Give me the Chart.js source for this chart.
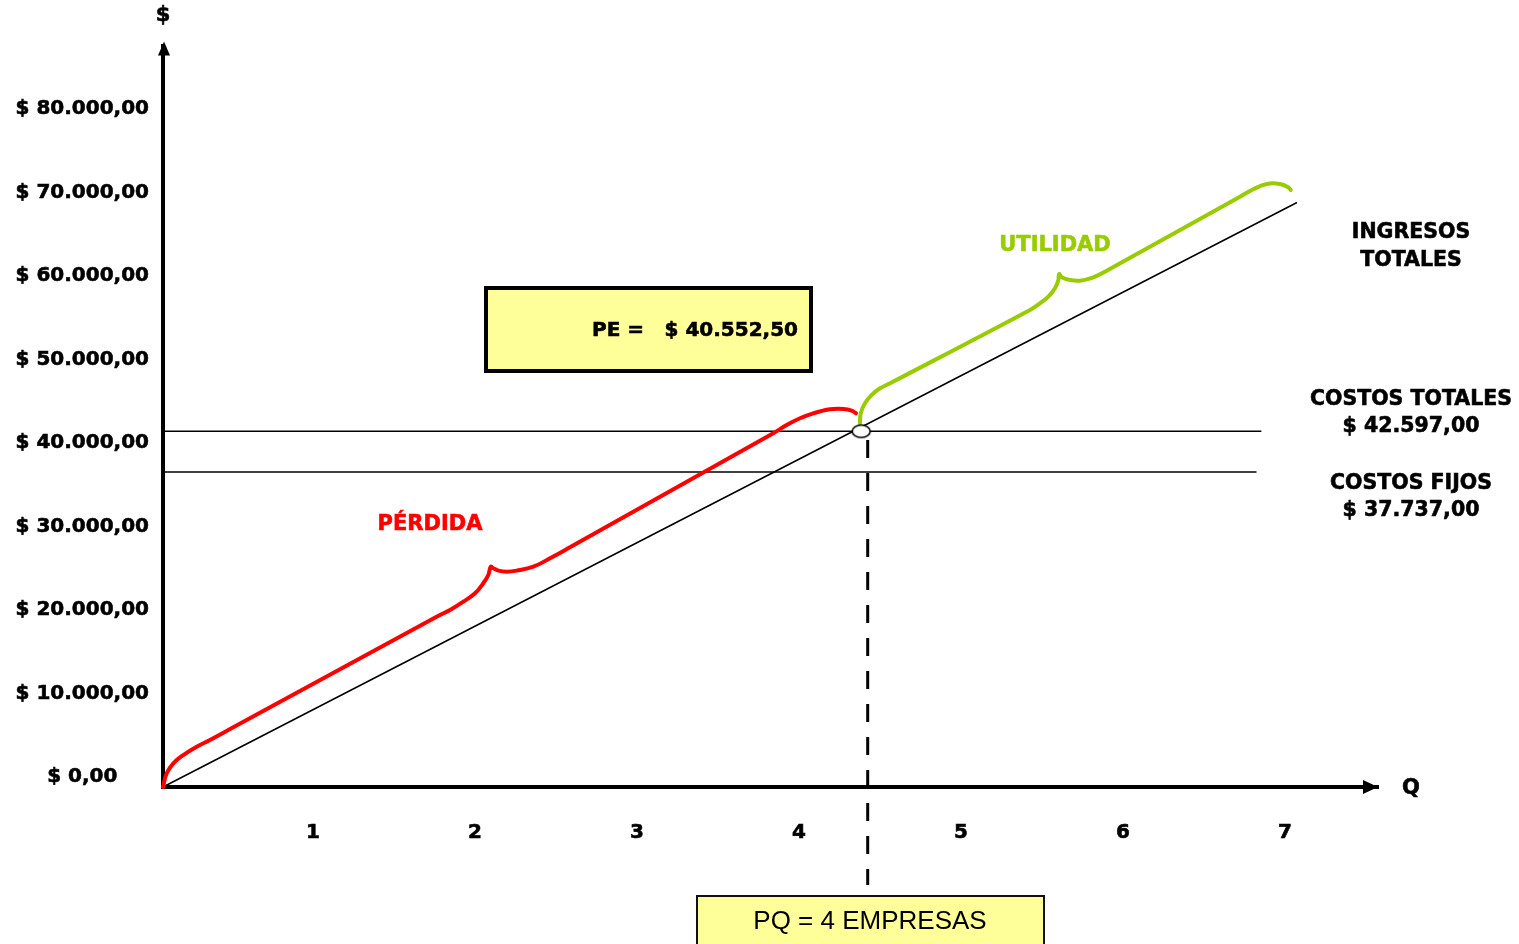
<!DOCTYPE html>
<html lang="es">
<head>
<meta charset="utf-8">
<title>Punto de equilibrio</title>
<script src="https://cdn.jsdelivr.net/npm/chart.js@4.4.1/dist/chart.umd.min.js"></script>
<style>
  html, body { margin: 0; padding: 0; background: #fff; }
  #wrap { position: relative; width: 1519px; height: 944px; }
</style>
</head>
<body>
<div id="wrap"><canvas id="chart"></canvas></div>
<script>
// Eje horizontal: cantidad (Q); eje vertical: dinero ($)
const qTicks = [1, 2, 3, 4, 5, 6, 7];
const moneyTicks = [0, 10000, 20000, 30000, 40000, 50000, 60000, 70000, 80000];

// Ingresos totales (recta desde el origen)
const ingresosQ = [0, 7];
const ingresosY = [0, 70000];

// Costos y punto de equilibrio
const costosTotales = 42597;
const costosFijos = 37737;
const puntoEquilibrio = 40552.5;
const pqEmpresas = 4;
const equilibrioQ = 4.31;
const lineaPQ = 4.35;

// Llave roja (zona de pérdida)
const perdidaQ = [0, 0.023, 0.064, 0.125, 0.208, 0.290, 0.434, 1.689, 1.772, 1.854, 1.926, 1.977, 2.008, 2.023,
                  2.039, 2.070, 2.122, 2.183, 2.286, 2.389, 2.512, 3.767, 3.850, 3.932, 4.014, 4.117, 4.199, 4.251, 4.278];
const perdidaY = [0, 1640, 2840, 3830, 4830, 5630, 7150, 20400, 21200, 22190, 23200, 24400, 25390, 26380,
                  26190, 25910, 25790, 25910, 26380, 27390, 28710, 42360, 43350, 44160, 44750, 45230, 45270, 45070, 44750];

// Llave verde (zona de utilidad)
const utilidadQ = [4.302, 4.307, 4.333, 4.375, 4.426, 4.488, 5.352, 5.414, 5.465, 5.506, 5.527, 5.531,
                   5.548, 5.599, 5.660, 5.743, 5.825, 6.648, 6.730, 6.813, 6.895, 6.946, 6.961];
const utilidadY = [43560, 44760, 45950, 46950, 47750, 48350, 57130, 57930, 58720, 59730, 60720, 61440,
                   61040, 60720, 60640, 61040, 61830, 70690, 71580, 72220, 72220, 71820, 71500];

const ROJO = '#FF0000';
const VERDE = '#99CC00';
const AMARILLO = '#FFFF99';
const FONT = '"DejaVu Sans", Verdana, sans-serif';

function money(v) {
  const [ent, dec] = v.toFixed(2).split('.');
  return '$ ' + ent.replace(/\B(?=(\d{3})+(?!\d))/g, '.') + ',' + dec;
}
const zip = (xs, ys) => xs.map((x, i) => ({ x, y: ys[i] }));

// Marcador elíptico del punto de equilibrio
const marcador = document.createElement('canvas');
marcador.width = 22; marcador.height = 16;
(() => {
  const c = marcador.getContext('2d');
  c.beginPath();
  c.ellipse(11, 8, 9, 6.2, 0, 0, Math.PI * 2);
  c.fillStyle = '#fff'; c.fill();
  c.lineWidth = 1.6; c.strokeStyle = '#000'; c.stroke();
})();

// texto en negrita con un leve trazo para darle más peso
function bold(ctx, txt, x, y, color) {
  ctx.fillStyle = color;
  ctx.strokeStyle = color;
  ctx.lineWidth = 0.6;
  ctx.fillText(txt, x, y);
  ctx.strokeText(txt, x, y);
}

const decoraciones = {
  id: 'decoraciones',
  afterDraw(chart) {
    const { ctx, chartArea: a, scales: { y } } = chart;
    const y0 = y.getPixelForValue(0);
    ctx.save();
    ctx.fillStyle = '#000';
    // flecha del eje Q
    ctx.beginPath();
    ctx.moveTo(a.right, y0);
    ctx.lineTo(a.right - 15, y0 - 7);
    ctx.lineTo(a.right - 15, y0 + 7);
    ctx.closePath(); ctx.fill();
    // flecha del eje $
    ctx.beginPath();
    ctx.moveTo(a.left + 1, a.top - 4);
    ctx.lineTo(a.left - 5, a.top + 10);
    ctx.lineTo(a.left + 7, a.top + 10);
    ctx.closePath(); ctx.fill();

    ctx.textAlign = 'center';
    ctx.textBaseline = 'middle';
    ctx.font = 'bold 21px ' + FONT;
    bold(ctx, '$', a.left, 16, '#000');
    bold(ctx, 'Q', 1411, 789, '#000');

    ctx.font = 'bold 20.5px ' + FONT;
    bold(ctx, 'INGRESOS', 1411, 233, '#000');
    bold(ctx, 'TOTALES', 1411, 261, '#000');
    bold(ctx, 'COSTOS TOTALES', 1411, 400, '#000');
    bold(ctx, money(costosTotales), 1411, 427, '#000');
    bold(ctx, 'COSTOS FIJOS', 1411, 484, '#000');
    bold(ctx, money(costosFijos), 1411, 511, '#000');

    ctx.font = 'bold 21px ' + FONT;
    bold(ctx, 'PÉRDIDA', 430, 525, ROJO);
    bold(ctx, 'UTILIDAD', 1055, 246, VERDE);

    // recuadro PE
    ctx.fillStyle = AMARILLO;
    ctx.fillRect(486, 288, 325, 83);
    ctx.lineWidth = 4; ctx.strokeStyle = '#000';
    ctx.strokeRect(486, 288, 325, 83);
    ctx.font = 'bold 20px ' + FONT;
    ctx.textAlign = 'left';
    bold(ctx, 'PE =', 592, 331, '#000');
    ctx.textAlign = 'right';
    bold(ctx, money(puntoEquilibrio), 798, 331, '#000');

    // recuadro PQ
    ctx.fillStyle = AMARILLO;
    ctx.fillRect(697, 896, 347, 60);
    ctx.lineWidth = 2; ctx.strokeStyle = '#111';
    ctx.strokeRect(697, 896, 347, 60);
    ctx.fillStyle = '#000';
    ctx.textAlign = 'center';
    ctx.font = '26px "Liberation Sans", Arial, sans-serif';
    ctx.fillText('PQ = ' + pqEmpresas + ' EMPRESAS', 870, 922);
    ctx.restore();
  }
};

new Chart(document.getElementById('chart'), {
  type: 'line',
  data: {
    datasets: [
      {
        label: 'Punto de equilibrio',
        data: [{ x: equilibrioQ, y: costosTotales }],
        showLine: false,
        pointStyle: marcador,
        pointRadius: 9,
        clip: false
      },
      {
        label: 'Utilidad',
        data: zip(utilidadQ, utilidadY),
        borderColor: VERDE, borderWidth: 4,
        tension: 0.4, borderCapStyle: 'round', borderJoinStyle: 'round',
        pointRadius: 0, clip: false
      },
      {
        label: 'Pérdida',
        data: zip(perdidaQ, perdidaY),
        borderColor: ROJO, borderWidth: 4,
        tension: 0.4, borderCapStyle: 'round', borderJoinStyle: 'round',
        pointRadius: 0, clip: false
      },
      {
        label: 'PQ',
        data: [{ x: lineaPQ, y: 41550 }, { x: lineaPQ, y: -11740 }],
        borderColor: '#000', borderWidth: 3, borderDash: [18, 15],
        pointRadius: 0, clip: false
      },
      {
        label: 'Ingresos totales',
        data: zip(ingresosQ, ingresosY),
        borderColor: '#000', borderWidth: 1.5,
        pointRadius: 0, clip: false
      },
      {
        label: 'Costos totales',
        data: [{ x: 0, y: costosTotales }, { x: 6.78, y: costosTotales }],
        borderColor: '#000', borderWidth: 1.5,
        pointRadius: 0, clip: false
      },
      {
        label: 'Costos fijos',
        data: [{ x: 0, y: costosFijos }, { x: 6.75, y: costosFijos }],
        borderColor: '#000', borderWidth: 1.5,
        pointRadius: 0, clip: false
      }
    ]
  },
  options: {
    responsive: true,
    maintainAspectRatio: false,
    animation: false,
    events: [],
    layout: { padding: { left: 0, top: 45.5, right: 141, bottom: 0 } },
    plugins: { legend: { display: false }, tooltip: { enabled: false } },
    scales: {
      x: {
        type: 'linear',
        min: 0, max: 7.5,
        grid: { display: false, drawTicks: false, tickLength: 0 },
        border: { display: true, color: '#000', width: 4 },
        afterBuildTicks: s => { s.ticks = qTicks.map(v => ({ value: v })); },
        afterFit: s => { s.height = 157; },
        ticks: {
          color: '#000',
          padding: 34,
          labelOffset: -12,
          maxRotation: 0,
          textStrokeColor: '#000',
          textStrokeWidth: 0.6,
          font: { family: FONT, size: 20, weight: 'bold' }
        }
      },
      y: {
        type: 'linear',
        min: 0, max: 88800,
        grid: { display: false, drawTicks: false, tickLength: 0 },
        border: { display: true, color: '#000', width: 4 },
        afterBuildTicks: s => { s.ticks = moneyTicks.map(v => ({ value: v })); },
        afterFit: s => { s.width = 163; },
        ticks: {
          color: '#000',
          padding: 14,
          crossAlign: 'center',
          labelOffset: -10,
          textStrokeColor: '#000',
          textStrokeWidth: 0.6,
          callback: v => money(v),
          font: { family: FONT, size: 20, weight: 'bold' }
        }
      }
    }
  },
  plugins: [decoraciones]
});
</script>
</body>
</html>
